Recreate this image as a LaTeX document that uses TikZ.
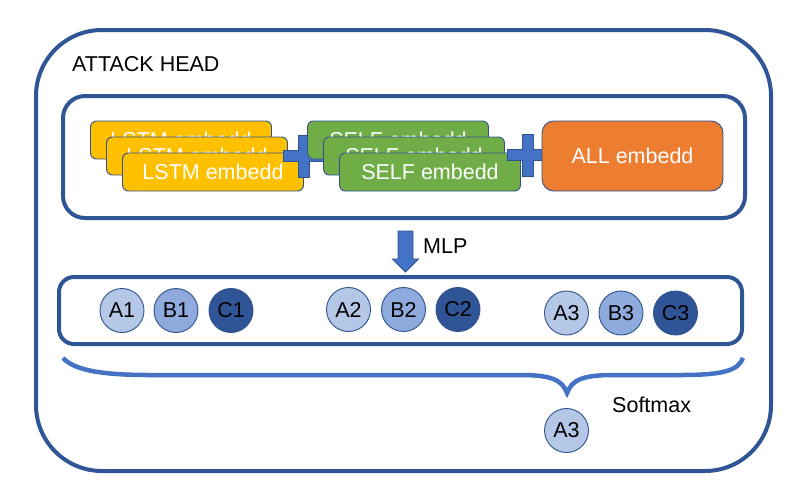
\documentclass[tikz,border=0pt]{standalone}
\usepackage{fontspec}
\setmainfont{Liberation Sans}
\definecolor{frame}{HTML}{2F5597}
\definecolor{edge}{HTML}{2F528F}
\definecolor{accent}{HTML}{4472C4}
\definecolor{lstmfill}{HTML}{FFC000}
\definecolor{selffill}{HTML}{70AD47}
\definecolor{allfill}{HTML}{ED7D31}
\definecolor{cA}{HTML}{B4C7E7}
\definecolor{cB}{HTML}{8FAADC}
\definecolor{cC}{HTML}{2F5597}
\tikzset{
  bigframe/.style={draw=frame, line width=4pt},
  embbox/.style={draw=edge, line width=0.9pt, rounded corners=6pt, minimum width=181pt, minimum height=38pt, text=white, font=\fontsize{21.5}{25}\selectfont, inner sep=0pt},
  circ/.style={circle, draw=edge, line width=0.9pt, minimum size=44pt, inner sep=0pt, font=\fontsize{21.5}{25}\selectfont},
  plusshape/.style={fill=accent, draw=edge, line width=0.9pt},
  lbl/.style={font=\fontsize{21.5}{25}\selectfont, inner sep=0pt}
}
\begin{document}
\begin{tikzpicture}[x=1pt,y=-1pt]
\useasboundingbox (0,0) rectangle (797,491);
% outer frame
\draw[bigframe, rounded corners=66pt] (36,30) rectangle (771,471);
\node[lbl, anchor=west] (title) at (72,64) {ATTACK HEAD};
% top inner box
\draw[bigframe, rounded corners=22pt] (63,96) rectangle (745,218);
% LSTM stack
\node[embbox, fill=lstmfill] (l1) at (181,140) {LSTM embedd};
\node[embbox, fill=lstmfill] (l2) at (197,156) {LSTM embedd};
\node[embbox, fill=lstmfill] (l3) at (213,172) {LSTM embedd};
% plus 1
\coordinate (p1) at (304,156);
\draw[plusshape] ([shift={(-5.5,-21)}]p1) -- ([shift={(5.5,-21)}]p1) -- ([shift={(5.5,-5.5)}]p1) -- ([shift={(21,-5.5)}]p1) -- ([shift={(21,5.5)}]p1) -- ([shift={(5.5,5.5)}]p1) -- ([shift={(5.5,21)}]p1) -- ([shift={(-5.5,21)}]p1) -- ([shift={(-5.5,5.5)}]p1) -- ([shift={(-21,5.5)}]p1) -- ([shift={(-21,-5.5)}]p1) -- ([shift={(-5.5,-5.5)}]p1) -- cycle;
% SELF stack
\node[embbox, fill=selffill] (s1) at (398,140) {SELF embedd};
\node[embbox, fill=selffill] (s2) at (414,156) {SELF embedd};
\node[embbox, fill=selffill] (s3) at (430,172) {SELF embedd};
% plus 2
\coordinate (p2) at (528,155);
\draw[plusshape] ([shift={(-5.5,-21)}]p2) -- ([shift={(5.5,-21)}]p2) -- ([shift={(5.5,-5.5)}]p2) -- ([shift={(21,-5.5)}]p2) -- ([shift={(21,5.5)}]p2) -- ([shift={(5.5,5.5)}]p2) -- ([shift={(5.5,21)}]p2) -- ([shift={(-5.5,21)}]p2) -- ([shift={(-5.5,5.5)}]p2) -- ([shift={(-21,5.5)}]p2) -- ([shift={(-21,-5.5)}]p2) -- ([shift={(-5.5,-5.5)}]p2) -- cycle;
% ALL
\node[embbox, fill=allfill, minimum height=70pt, rounded corners=12pt] (all) at (632.5,156) {ALL embedd};
% MLP arrow
\coordinate (ma) at (405.5,231);
\draw[plusshape] ([shift={(-7.5,0)}]ma) -- ([shift={(7.5,0)}]ma) -- ([shift={(7.5,28)}]ma) -- ([shift={(13,28)}]ma) -- ([shift={(0,41)}]ma) -- ([shift={(-13,28)}]ma) -- ([shift={(-7.5,28)}]ma) -- cycle;
\node[lbl, anchor=west] (mlp) at (423,246) {MLP};
% bottom box
\draw[bigframe, rounded corners=15pt] (59,277) rectangle (742,344);
\node[circ, fill=cA] (a1) at (122,310.5) {A1};
\node[circ, fill=cB] (b1) at (176,310.5) {B1};
\node[circ, fill=cC] (c1) at (231,310.5) {C1};
\node[circ, fill=cA] (a2) at (348.5,309.5) {A2};
\node[circ, fill=cB] (b2) at (403.5,309.5) {B2};
\node[circ, fill=cC] (c2) at (458,309.5) {C2};
\node[circ, fill=cA] (a3) at (566.5,313) {A3};
\node[circ, fill=cB] (b3) at (621,313) {B3};
\node[circ, fill=cC] (c3) at (675.5,313) {C3};
% brace
\coordinate (bl) at (63,358);
\coordinate (br) at (743,358);
\coordinate (bt) at (567,393);
\draw[accent, line width=4.5pt] (bl) .. controls (75,371) and (105,375) .. (150,375) -- (520,375) .. controls (552,375) and (562,380) .. (bt) .. controls (572,380) and (582,375) .. (614,375) -- (680,375) .. controls (722,375) and (738,371) .. (br);
\node[lbl, anchor=west] (sm) at (612,405) {Softmax};
\node[circ, fill=cA] (out) at (566.5,430.5) {A3};
\end{tikzpicture}
\end{document}
